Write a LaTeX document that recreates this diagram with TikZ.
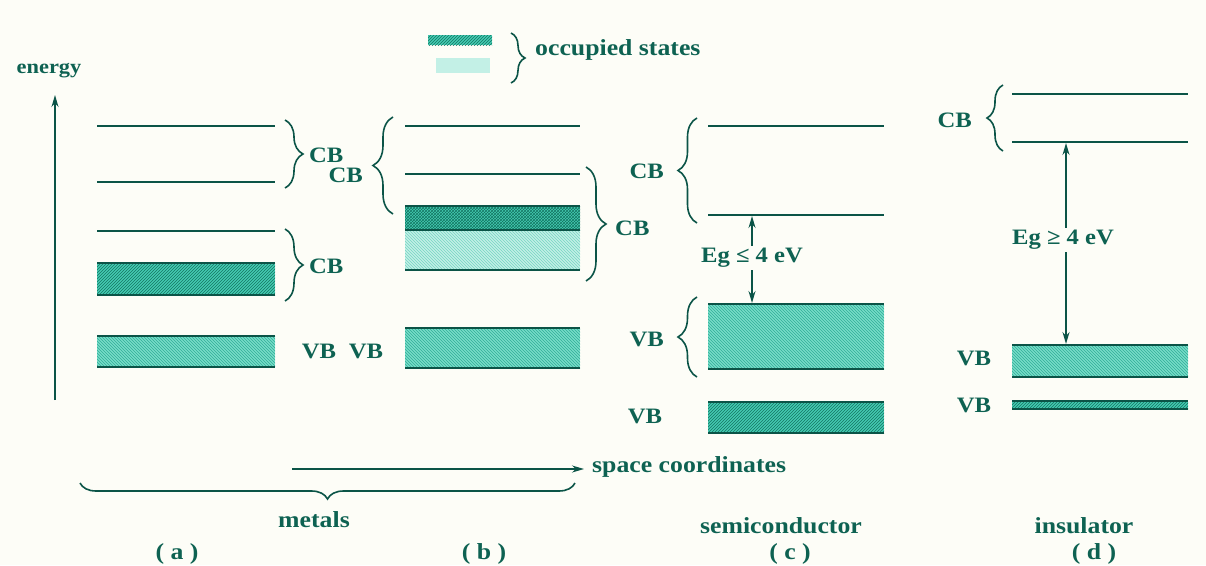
\documentclass[tikz,border=0pt]{standalone}
\usepackage{fontspec}
\setmainfont{Liberation Serif}[FakeStretch=1.12]
\usetikzlibrary{decorations.pathreplacing,patterns,arrows.meta}
\definecolor{ink}{HTML}{0B5447}
\definecolor{txt}{HTML}{0E6252}
\definecolor{bg}{HTML}{FDFDF7}
\definecolor{hatchdark}{HTML}{137562}
\definecolor{filldark}{HTML}{45CBB2}
\definecolor{filllight}{HTML}{78DCC9}
\definecolor{hatchlight}{HTML}{2FAE97}
\definecolor{fillpale}{HTML}{C3F0E6}
\definecolor{hatchpale}{HTML}{76D6C3}
\begin{document}
\begin{tikzpicture}[x=1pt,y=-1pt,
  level/.style={draw=ink,line width=2.8pt},
  lbl/.style={text=txt,font=\fontsize{23}{26}\bfseries\selectfont,inner sep=0pt},
  band/.style={text=txt,font=\fontsize{22}{26}\bfseries\selectfont,inner sep=0pt},
  brc/.style={draw=ink,line width=1.6pt,decorate,decoration={brace,amplitude=#1}},
  brc/.default=18,
  arr/.style={draw=ink,line width=1.5pt,-{Stealth[length=12pt,width=7pt]}},
  gap/.style={draw=ink,line width=1.5pt,{Stealth[length=12pt,width=7pt]}-{Stealth[length=12pt,width=7pt]}},
  darkfill/.style={fill=filldark,postaction={pattern=north east lines,pattern color=hatchdark}},
  lightfill/.style={fill=filllight,postaction={pattern=north west lines,pattern color=hatchlight}},
  crossfill/.style={fill=filldark,postaction={pattern=crosshatch,pattern color=hatchdark}},
  palefill/.style={fill=fillpale,postaction={pattern=north west lines,pattern color=hatchpale}}
]
\fill[bg] (0,0) rectangle (1206,565);
\useasboundingbox (0,0) rectangle (1206,565);

% legend
\fill[darkfill] (428,35) rectangle (492,45);
\fill[fillpale] (436,58) rectangle (490,73);
\draw[brc=14] (511,33) -- (511,83);
\node[lbl,anchor=west] (occ) at (535,50) {occupied states};

% energy axis
\node[lbl,font=\fontsize{20}{24}\bfseries\selectfont] (energy) at (49,71) {energy};
\coordinate (e0) at (55,400);
\coordinate (e1) at (55,95);
\draw[arr] (e0) -- (e1);

% (a)
\draw[level] (97,126) -- (275,126);
\draw[level] (97,182) -- (275,182);
\draw[level] (97,231) -- (275,231);
\fill[darkfill] (97,263) rectangle (275,295);
\draw[level] (97,263) -- (275,263);
\draw[level] (97,295) -- (275,295);
\fill[lightfill] (97,336) rectangle (275,367);
\draw[level] (97,336) -- (275,336);
\draw[level] (97,367) -- (275,367);
\draw[brc] (285,120) -- (285,188);
\node[band,anchor=west] (cba1) at (309,155) {CB};
\draw[brc] (285,229) -- (285,301);
\node[band,anchor=west] (cba2) at (309,266) {CB};
\node[band] (vba) at (319,351) {VB};

% (b)
\draw[level] (405,126) -- (580,126);
\draw[level] (405,174) -- (580,174);
\fill[crossfill] (405,206) rectangle (580,230);
\fill[palefill] (405,230) rectangle (580,270);
\draw[level] (405,206) -- (580,206);
\draw[level] (405,230) -- (580,230);
\draw[level] (405,270) -- (580,270);
\fill[lightfill] (405,328) rectangle (580,368);
\draw[level] (405,328) -- (580,328);
\draw[level] (405,368) -- (580,368);
\draw[brc=20] (393,214) -- (393,117);
\node[band,anchor=east] (cbb1) at (363,175) {CB};
\draw[brc=20] (586,167) -- (586,281);
\node[band,anchor=west] (cbb2) at (615,228) {CB};
\node[band] (vbb) at (366,351) {VB};

% (c)
\draw[level] (708,126) -- (884,126);
\draw[level] (708,215) -- (884,215);
\fill[lightfill] (708,304) rectangle (884,369);
\draw[level] (708,304) -- (884,304);
\draw[level] (708,369) -- (884,369);
\fill[darkfill] (708,402) rectangle (884,433);
\draw[level] (708,402) -- (884,402);
\draw[level] (708,433) -- (884,433);
\draw[brc=19] (697,223) -- (697,118);
\node[band,anchor=east] (cbc) at (664,171) {CB};
\draw[brc=19] (697,377) -- (697,297);
\node[band,anchor=east] (vbc1) at (664,339) {VB};
\node[band] (vbc2) at (645,416) {VB};
\coordinate (gc1) at (752,216);
\coordinate (gc2) at (752,303);
\draw[gap] (gc1) -- (gc2);
\node[lbl,font=\fontsize{22}{26}\bfseries\selectfont,fill=bg,inner sep=2pt] (egc) at (752,258) {Eg ≤ 4 eV};

% (d)
\draw[level] (1012,94) -- (1188,94);
\draw[level] (1012,142) -- (1188,142);
\fill[lightfill] (1012,345) rectangle (1188,377);
\draw[level] (1012,345) -- (1188,345);
\draw[level] (1012,377) -- (1188,377);
\fill[darkfill] (1012,401) rectangle (1188,409);
\draw[level] (1012,401) -- (1188,401);
\draw[level] (1012,409) -- (1188,409);
\draw[brc=16] (1003,151) -- (1003,85);
\node[band,anchor=east] (cbd) at (972,120) {CB};
\node[band] (vbd1) at (974,358) {VB};
\node[band] (vbd2) at (974,405) {VB};
\coordinate (gd1) at (1066,143);
\coordinate (gd2) at (1066,344);
\draw[gap] (gd1) -- (gd2);
\node[lbl,font=\fontsize{22}{26}\bfseries\selectfont,fill=bg,inner sep=2pt] (egd) at (1063,240) {Eg ≥ 4 eV};

% space coordinates and bottom labels
\coordinate (s0) at (292,469);
\coordinate (s1) at (584,469);
\draw[arr] (s0) -- (s1);
\node[lbl,anchor=west] (space) at (592,467) {space coordinates};
\draw[brc=16] (575,483) -- (80,483);
\node[lbl] (metals) at (314,520) {metals};
\node[lbl] (semi) at (781,526) {semiconductor};
\node[lbl] (ins) at (1084,526) {insulator};
\node[lbl] (la) at (177,554) {( a )};
\node[lbl] (lb) at (484,554) {( b )};
\node[lbl] (lc) at (790,554) {( c )};
\node[lbl] (ld) at (1094,554) {( d )};
\end{tikzpicture}
\end{document}
